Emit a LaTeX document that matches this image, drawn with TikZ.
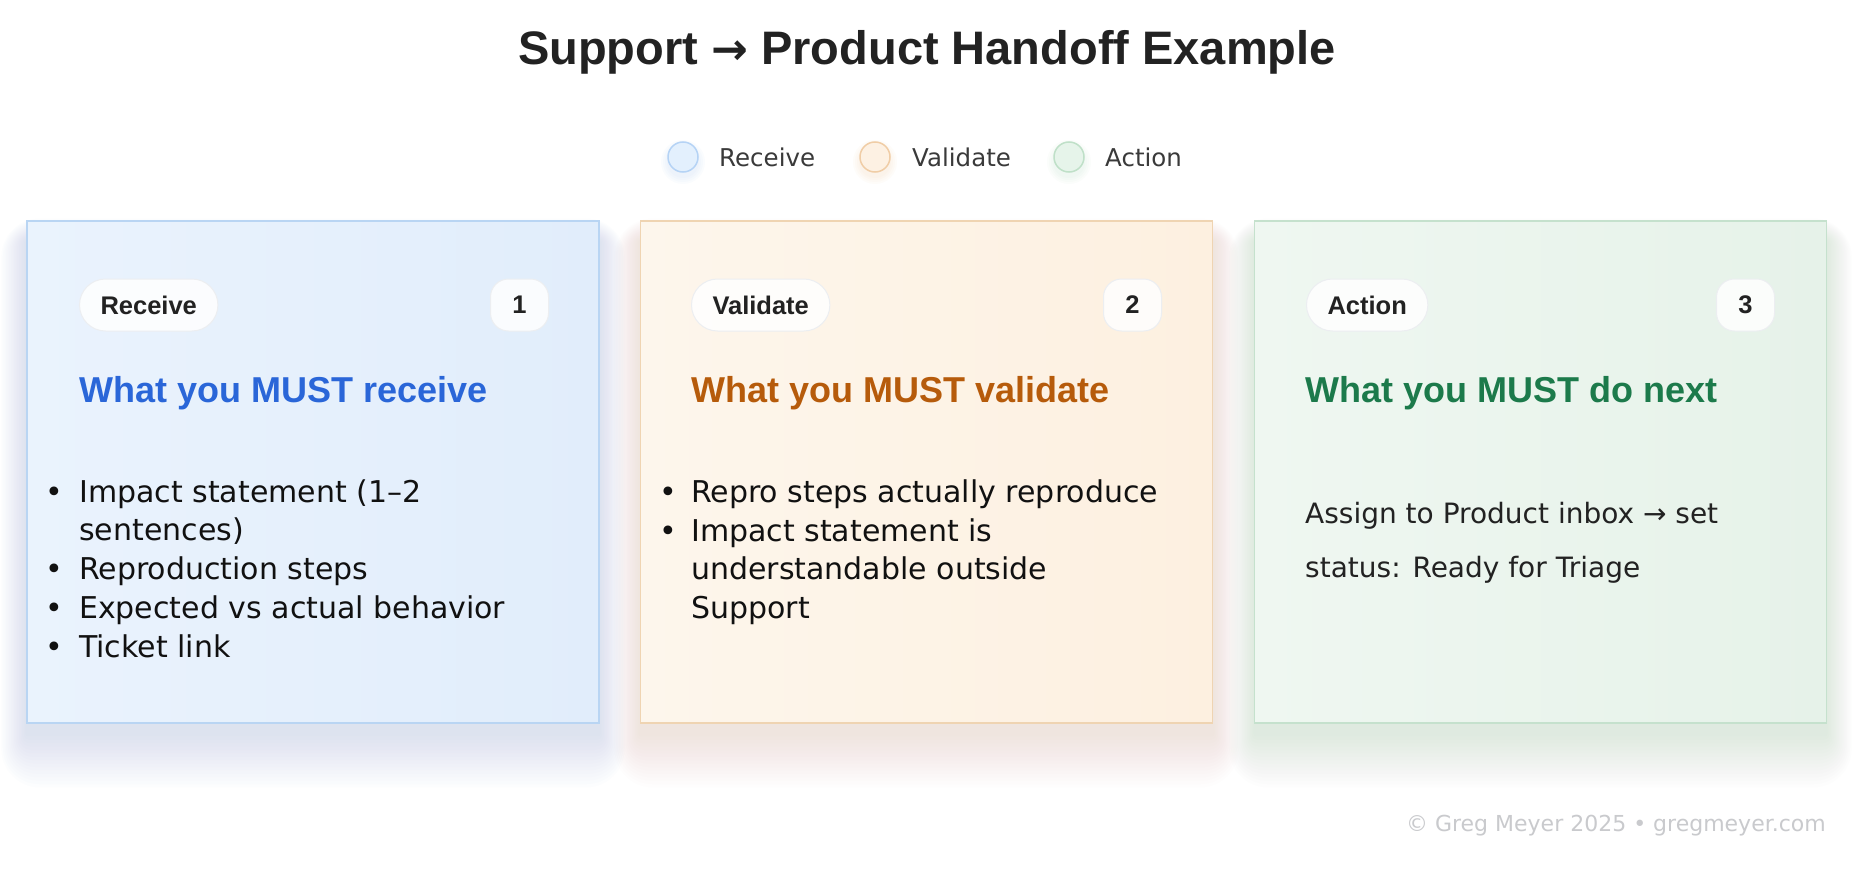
\documentclass[tikz,border=0pt]{standalone}
\usepackage{fontspec}
\setmainfont{DejaVu Sans}
\newfontfamily\headfont{Liberation Sans}
\newfontfamily\arrowfont{DejaVu Sans}
\definecolor{bluefillA}{HTML}{EAF3FD}
\definecolor{bluefillB}{HTML}{E1EDFB}
\definecolor{blueline}{HTML}{B9D5F3}
\definecolor{orfillA}{HTML}{FDF6EC}
\definecolor{orfillB}{HTML}{FDF0E0}
\definecolor{orline}{HTML}{EFD4B2}
\definecolor{grfillA}{HTML}{EFF7F1}
\definecolor{grfillB}{HTML}{E6F2E9}
\definecolor{grline}{HTML}{C5E1CD}
\definecolor{bluehead}{HTML}{2A66D8}
\definecolor{orhead}{HTML}{B65B0B}
\definecolor{grhead}{HTML}{1C7A4B}
\definecolor{ink}{HTML}{111111}
\definecolor{inktwo}{HTML}{222222}
\definecolor{legendtxt}{HTML}{3A3A3A}
\definecolor{foot}{HTML}{C9CACD}
\definecolor{pillline}{HTML}{ECEEF1}
\definecolor{shblue}{HTML}{A6BEE6}
\definecolor{shor}{HTML}{E4C2B0}
\definecolor{shgr}{HTML}{ADCCB8}
\definecolor{lgblue}{HTML}{E3F0FD}
\definecolor{lgbluel}{HTML}{B5D3F5}
\definecolor{lgor}{HTML}{FDF1E3}
\definecolor{lgorl}{HTML}{F0CDA6}
\definecolor{lggr}{HTML}{E6F4EA}
\definecolor{lggrl}{HTML}{BFE0C8}
\newcommand\softshadow[5]{%
  \foreach \k in {1,...,16}{%
    \fill[#5, opacity=0.022, rounded corners=\k*2.4pt]
      (#1-\k*1.6, #2-\k*1.4+20) rectangle (#3+\k*1.6, #4+\k*3.4+10);}}
\tikzset{
  card/.style={line width=1.5pt, minimum width=572pt, minimum height=502pt, inner sep=0pt},
  pill/.style={draw=pillline, line width=1pt, fill=white, fill opacity=0.85, text opacity=1,
    rounded corners=26pt, minimum height=52pt, inner xsep=21pt, inner ysep=0pt,
    font=\headfont\bfseries\fontsize{25.5}{30}\selectfont, text=inktwo},
  badge/.style={pill, minimum width=58pt, inner xsep=0pt, rounded corners=18pt},
  heading/.style={anchor=base west, inner sep=0pt, font=\headfont\bfseries\fontsize{36}{40}\selectfont},
  bodyline/.style={anchor=base west, inner sep=0pt, font=\fontsize{30}{38}\selectfont, text=ink},
  bulletdot/.style={anchor=base, inner sep=0pt, font=\fontsize{30}{38}\selectfont, text=ink},
  actline/.style={anchor=base west, inner sep=0pt, font=\fontsize{28}{36}\selectfont, text=inktwo},
  legdot/.style={circle, minimum size=30pt, inner sep=0pt, line width=1.5pt},
  legtext/.style={anchor=base west, inner sep=0pt, font=\fontsize{24.5}{30}\selectfont, text=legendtxt}
}
\begin{document}
\begin{tikzpicture}[x=1pt,y=-1pt]
\useasboundingbox[fill=white] (0,0) rectangle (1874,872);

% title
\node[anchor=base, inner sep=0pt, font=\headfont\bfseries\fontsize{47}{52}\selectfont, text=inktwo] (title) at (927,65) {Support {\arrowfont\bfseries\fontsize{44}{52}\selectfont →} Product Handoff Example};

% legend
\foreach \cx/\col in {683/blue, 875/or, 1069/gr}{
  \foreach \r in {16,18,20,22}{\fill[lg\col l, opacity=0.06] (\cx,162) circle (\r);}
}
\node[legdot, fill=lgblue, draw=lgbluel] (l1) at (683,157) {};
\node[legtext] (lt1) at (719,166) {Receive};
\node[legdot, fill=lgor, draw=lgorl] (l2) at (875,157) {};
\node[legtext] (lt2) at (912,166) {Validate};
\node[legdot, fill=lggr, draw=lggrl] (l3) at (1069,157) {};
\node[legtext] (lt3) at (1105,166) {Action};

% shadows
\softshadow{27}{221}{599}{723}{shblue}
\softshadow{640}{221}{1213}{723}{shor}
\softshadow{1255}{221}{1826}{723}{shgr}

% cards
\node[card, draw=blueline, left color=bluefillA, right color=bluefillB] (c1) at (313,472) {};
\node[card, draw=orline, left color=orfillA, right color=orfillB] (c2) at (926.5,472) {};
\node[card, draw=grline, left color=grfillA, right color=grfillB] (c3) at (1540.5,472) {};

% card 1
\node[pill, anchor=west] (p1) at (79,305) {Receive};
\node[badge, anchor=east] (n1) at (549,305) {1};
\node[heading, text=bluehead] (h1) at (79,402.5) {What you MUST receive};
\node[bulletdot] (b11) at (54,502) {•};
\node[bodyline] (t11) at (79,502) {Impact statement (1–2};
\node[bodyline] (t11b) at (79,540.5) {sentences)};
\node[bulletdot] (b12) at (54,579) {•};
\node[bodyline] (t12) at (79,579) {Reproduction steps};
\node[bulletdot] (b13) at (54,618) {•};
\node[bodyline] (t13) at (79,618) {Expected vs actual behavior};
\node[bulletdot] (b14) at (54,657) {•};
\node[bodyline] (t14) at (79,657) {Ticket link};

% card 2
\node[pill, anchor=west] (p2) at (691,305) {Validate};
\node[badge, anchor=east] (n2) at (1162,305) {2};
\node[heading, text=orhead] (h2) at (691,402.5) {What you MUST validate};
\node[bulletdot] (b21) at (668,502) {•};
\node[bodyline] (t21) at (691,502) {Repro steps actually reproduce};
\node[bulletdot] (b22) at (668,541) {•};
\node[bodyline] (t22) at (691,541) {Impact statement is};
\node[bodyline] (t22b) at (691,579.5) {understandable outside};
\node[bodyline] (t22c) at (691,618) {Support};

% card 3
\node[pill, anchor=west] (p3) at (1306,305) {Action};
\node[badge, anchor=east] (n3) at (1775,305) {3};
\node[heading, text=grhead] (h3) at (1305,402.5) {What you MUST do next};
\node[actline] (t31) at (1305,523) {Assign to Product inbox → set};
\node[actline] (t32) at (1305,577.5) {status: Ready for Triage};

% footer
\node[anchor=base east, inner sep=0pt, font=\fontsize{22}{26}\selectfont, text=foot] (foot) at (1826,831) {© Greg Meyer 2025 • gregmeyer.com};
\end{tikzpicture}
\end{document}
